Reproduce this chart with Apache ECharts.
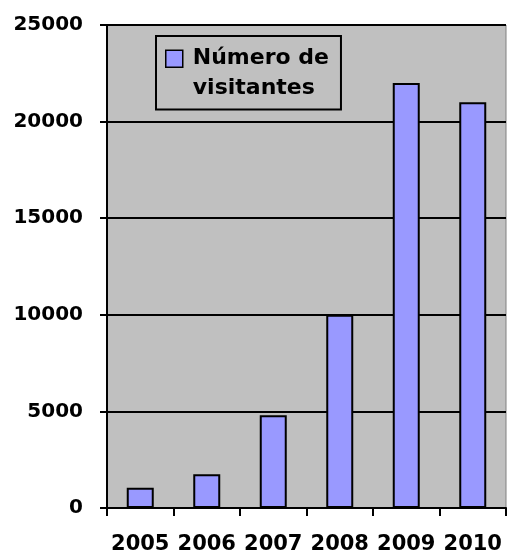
<!DOCTYPE html>
<html>
<head>
<meta charset="utf-8">
<script src="https://cdn.jsdelivr.net/npm/echarts@6/dist/echarts.min.js"></script>
<style>
  html, body { margin: 0; padding: 0; background: #fff; }
  #chart { width: 507px; height: 557px; }
</style>
</head>
<body>
<div id="chart"></div>
<script>
// 数据
var years = ['2005', '2006', '2007', '2008', '2009', '2010'];
var visitantes = [1050, 1750, 4800, 10000, 22000, 21000];
var seriesName = 'Número de visitantes';

var myChart = echarts.init(document.getElementById('chart'));

var option = {
  backgroundColor: '#fff',
  animation: false,
  grid: {
    left: 107,
    right: 1,
    top: 25,
    bottom: 49,
    show: true,
    backgroundColor: '#C0C0C0',
    borderColor: '#808080',
    borderWidth: 1
  },
  legend: {
    left: 156,
    top: 36,
    orient: 'vertical',
    // 方块放在第一行文字旁边
    icon: 'path://M0,0M0,60M0,6.5H17V23.5H0Z',
    itemWidth: 17,
    itemHeight: 60,
    itemGap: 0,
    padding: [7, 12, 5, 9],
    borderColor: '#000',
    borderWidth: 2,
    backgroundColor: '#C0C0C0',
    itemStyle: { borderColor: '#000', borderWidth: 1.5 },
    formatter: function () {
      return 'Número de\nvisitantes';
    },
    textStyle: {
      fontFamily: 'DejaVu Sans',
      fontWeight: 'bold',
      fontSize: 22,
      lineHeight: 30,
      color: '#000',
      padding: [0, 0, 0, 5]
    },
    data: [seriesName]
  },
  xAxis: {
    type: 'category',
    data: years,
    axisLine: { lineStyle: { color: '#000', width: 2 } },
    axisTick: { show: true, length: 8, lineStyle: { color: '#000', width: 2 } },
    axisLabel: {
      interval: 0,
      margin: 26,
      fontFamily: 'DejaVu Sans',
      fontWeight: 'bold',
      fontSize: 21,
      color: '#000'
    },
    splitLine: { show: false }
  },
  yAxis: {
    type: 'value',
    min: 0,
    max: 25000,
    interval: 5000,
    axisLine: { show: true, lineStyle: { color: '#000', width: 2 } },
    axisTick: { show: true, length: 7, lineStyle: { color: '#000', width: 2 } },
    axisLabel: {
      margin: 24,
      fontFamily: 'DejaVu Sans',
      fontWeight: 'bold',
      fontSize: 20,
      color: '#000',
      formatter: function (v) {
        return String(v);
      }
    },
    splitLine: { show: true, lineStyle: { color: '#000', width: 2 } }
  },
  series: [
    {
      name: seriesName,
      type: 'bar',
      data: visitantes,
      barWidth: 27,
      itemStyle: {
        color: '#9999FF',
        borderColor: '#000',
        borderWidth: 2
      }
    }
  ]
};

myChart.setOption(option);
</script>
</body>
</html>
